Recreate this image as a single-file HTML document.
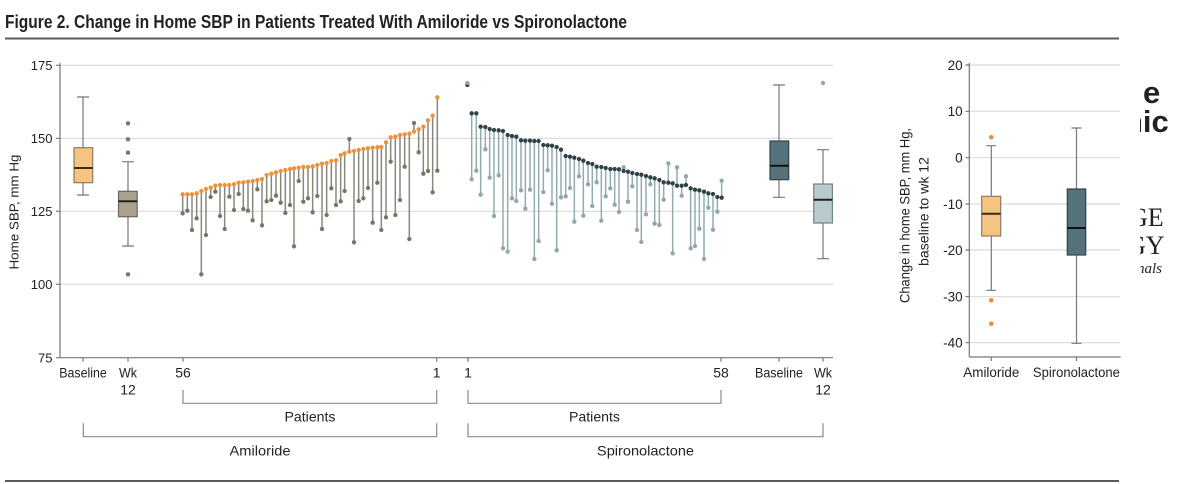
<!DOCTYPE html>
<html><head><meta charset="utf-8"><style>
html,body{margin:0;padding:0;background:#fff;}
svg{display:block;}
text{font-family:"Liberation Sans",sans-serif;fill:#222;}
</style></head><body>
<svg width="1200" height="484" viewBox="0 0 1200 484" xmlns="http://www.w3.org/2000/svg">
<defs><clipPath id="clipR"><rect x="1140" y="0" width="60" height="484"/></clipPath></defs>
<rect width="1200" height="484" fill="#fff"/>
<!-- title -->
<text x="5" y="28" font-size="18" font-weight="bold" textLength="622" lengthAdjust="spacingAndGlyphs">Figure 2. Change in Home SBP in Patients Treated With Amiloride vs Spironolactone</text>
<line x1="5" y1="38.5" x2="1119" y2="38.5" stroke="#5a5a5a" stroke-width="2"/>
<line x1="5" y1="481" x2="1119" y2="481" stroke="#5a5a5a" stroke-width="2"/>

<!-- main chart grid -->
<g stroke="#dadada" stroke-width="1.2">
<line x1="60" y1="65.3" x2="833" y2="65.3"/>
<line x1="60" y1="138.3" x2="833" y2="138.3"/>
<line x1="60" y1="211.3" x2="833" y2="211.3"/>
<line x1="60" y1="284.3" x2="833" y2="284.3"/>
</g>
<g stroke="#777" stroke-width="1.2" fill="none">
<line x1="60" y1="63" x2="60" y2="357.7"/>
<line x1="60" y1="357.7" x2="833" y2="357.7"/>
<path d="M56 65.3H60M56 138.3H60M56 211.3H60M56 284.3H60M56 357.7H60"/>
<path d="M83 357.7V361.7M128 357.7V361.7M183 357.7V361.7M436.7 357.7V361.7M468 357.7V361.7M721 357.7V361.7M779 357.7V361.7M823 357.7V361.7"/>
</g>
<g font-size="13" text-anchor="end" fill="#333">
<text x="52.5" y="70">175</text>
<text x="52.5" y="143">150</text>
<text x="52.5" y="216">125</text>
<text x="52.5" y="289">100</text>
<text x="52.5" y="362.4">75</text>
</g>
<text transform="translate(18.5,212) rotate(-90)" font-size="13" text-anchor="middle" textLength="115" lengthAdjust="spacingAndGlyphs">Home SBP, mm Hg</text>

<!-- x labels -->
<g font-size="14" text-anchor="middle">
<text x="83" y="377.3" textLength="47.5" lengthAdjust="spacingAndGlyphs">Baseline</text>
<text x="128" y="377.3" textLength="18" lengthAdjust="spacingAndGlyphs">Wk</text>
<text x="128" y="394.3">12</text>
<text x="183" y="377.3">56</text>
<text x="436.7" y="377.3">1</text>
<text x="468" y="377.3">1</text>
<text x="721" y="377.3">58</text>
<text x="779" y="377.3" textLength="48" lengthAdjust="spacingAndGlyphs">Baseline</text>
<text x="823" y="377.3" textLength="18" lengthAdjust="spacingAndGlyphs">Wk</text>
<text x="823" y="394.3">12</text>
<text x="310" y="421.7" textLength="51" lengthAdjust="spacingAndGlyphs">Patients</text>
<text x="594.5" y="421.7" textLength="51" lengthAdjust="spacingAndGlyphs">Patients</text>
<text x="260" y="455.7" textLength="61" lengthAdjust="spacingAndGlyphs">Amiloride</text>
<text x="645.5" y="455.7" textLength="97" lengthAdjust="spacingAndGlyphs">Spironolactone</text>
</g>
<g stroke="#8a8a8a" stroke-width="1.2" fill="none">
<path d="M183 390V403.3H436.7V390"/>
<path d="M468 390V403.3H721V390"/>
<path d="M83.3 423.3V436.7H436.7V423.3"/>
<path d="M468 423.3V436.7H823V423.3"/>
</g>

<!-- amiloride box plots -->
<g stroke="#777" stroke-width="1.2">
<path d="M83 97V147.7M83 182.7V195M77 97H89M77 195H89"/>
<path d="M128 161.7V191.3M128 216.7V246M122 161.7H134M122 246H134"/>
</g>
<rect x="74" y="147.7" width="18.7" height="35" fill="#f6c380" stroke="#8d7c63" stroke-width="1.2"/>
<line x1="74" y1="168" x2="92.7" y2="168" stroke="#3a2a16" stroke-width="2"/>
<rect x="118.5" y="191.3" width="18.7" height="25.4" fill="#a9a291" stroke="#6c675b" stroke-width="1.2"/>
<line x1="118.5" y1="201.3" x2="137.2" y2="201.3" stroke="#222" stroke-width="2"/>
<g fill="#7a776c">
<circle cx="128" cy="123.3" r="2.2"/><circle cx="128" cy="139.3" r="2.2"/><circle cx="128" cy="152.7" r="2.2"/><circle cx="128" cy="274.3" r="2.2"/>
</g>

<!-- spironolactone box plots -->
<g stroke="#777" stroke-width="1.2">
<path d="M779 85V141M779 179.7V197.3M773 85H785M773 197.3H785"/>
<path d="M823 149.7V184M823 223V258.7M817 149.7H829M817 258.7H829"/>
</g>
<rect x="770" y="141" width="18.7" height="38.7" fill="#55727a" stroke="#2f4449" stroke-width="1.2"/>
<line x1="770" y1="165.7" x2="788.7" y2="165.7" stroke="#111" stroke-width="2"/>
<rect x="813.7" y="184" width="18.7" height="39" fill="#b9cacd" stroke="#6f8488" stroke-width="1.2"/>
<line x1="813.7" y1="199.7" x2="832.4" y2="199.7" stroke="#222" stroke-width="2"/>
<circle cx="823" cy="83" r="2.2" fill="#8fa8ac"/>

<!-- amiloride lollipops (zoom coords) -->
<g transform="translate(170,85) scale(0.33333)">
<path stroke="#8a877c" stroke-width="4.5" fill="none" d="M38 328V385M52 328V377M66 328V435M80 325V400M94 318V568M108 312V450M122 308V336M136 302V320M150 300V393M164 300V432M178 300V335M192 298V375M206 293V327M220 292V372M234 290V377M248 288V406M262 285V313M276 282V421M290 270V349M304 266V345M318 262V332M332 258V353M346 255V384M360 252V360M372 250V484M386 248V288M400 246V350M414 246V340M428 244V382M442 240V333M456 236V432M470 234V390M484 228V310M498 226V360M512 210V349M524 205V318M538 200V162M552 198V472M566 195V348M580 192V340M594 190V309M608 188V413M622 187V293M634 186V435M648 172V397M662 157V230M676 155V390M690 150V345M704 148V245M718 146V462M732 140V114M746 133V202M760 125V266M774 106V258M788 92V322M802 37V257"/>
<g fill="#78756a">
<circle cx="38" cy="385" r="6.5"/><circle cx="52" cy="377" r="6.5"/><circle cx="66" cy="435" r="6.5"/><circle cx="80" cy="400" r="6.5"/><circle cx="94" cy="568" r="6.5"/><circle cx="108" cy="450" r="6.5"/><circle cx="122" cy="336" r="6.5"/><circle cx="136" cy="320" r="6.5"/><circle cx="150" cy="393" r="6.5"/><circle cx="164" cy="432" r="6.5"/><circle cx="178" cy="335" r="6.5"/><circle cx="192" cy="375" r="6.5"/><circle cx="206" cy="327" r="6.5"/><circle cx="220" cy="372" r="6.5"/><circle cx="234" cy="377" r="6.5"/><circle cx="248" cy="406" r="6.5"/><circle cx="262" cy="313" r="6.5"/><circle cx="276" cy="421" r="6.5"/><circle cx="290" cy="349" r="6.5"/><circle cx="304" cy="345" r="6.5"/><circle cx="318" cy="332" r="6.5"/><circle cx="332" cy="353" r="6.5"/><circle cx="346" cy="384" r="6.5"/><circle cx="360" cy="360" r="6.5"/><circle cx="372" cy="484" r="6.5"/><circle cx="386" cy="288" r="6.5"/><circle cx="400" cy="350" r="6.5"/><circle cx="414" cy="340" r="6.5"/><circle cx="428" cy="382" r="6.5"/><circle cx="442" cy="333" r="6.5"/><circle cx="456" cy="432" r="6.5"/><circle cx="470" cy="390" r="6.5"/><circle cx="484" cy="310" r="6.5"/><circle cx="498" cy="360" r="6.5"/><circle cx="512" cy="349" r="6.5"/><circle cx="524" cy="318" r="6.5"/><circle cx="538" cy="162" r="6.5"/><circle cx="552" cy="472" r="6.5"/><circle cx="566" cy="348" r="6.5"/><circle cx="580" cy="340" r="6.5"/><circle cx="594" cy="309" r="6.5"/><circle cx="608" cy="413" r="6.5"/><circle cx="622" cy="293" r="6.5"/><circle cx="634" cy="435" r="6.5"/><circle cx="648" cy="397" r="6.5"/><circle cx="662" cy="230" r="6.5"/><circle cx="676" cy="390" r="6.5"/><circle cx="690" cy="345" r="6.5"/><circle cx="704" cy="245" r="6.5"/><circle cx="718" cy="462" r="6.5"/><circle cx="732" cy="114" r="6.5"/><circle cx="746" cy="202" r="6.5"/><circle cx="760" cy="266" r="6.5"/><circle cx="774" cy="258" r="6.5"/><circle cx="788" cy="322" r="6.5"/><circle cx="802" cy="257" r="6.5"/>
</g>
<g fill="#ec933a">
<circle cx="38" cy="328" r="6.5"/><circle cx="52" cy="328" r="6.5"/><circle cx="66" cy="328" r="6.5"/><circle cx="80" cy="325" r="6.5"/><circle cx="94" cy="318" r="6.5"/><circle cx="108" cy="312" r="6.5"/><circle cx="122" cy="308" r="6.5"/><circle cx="136" cy="302" r="6.5"/><circle cx="150" cy="300" r="6.5"/><circle cx="164" cy="300" r="6.5"/><circle cx="178" cy="300" r="6.5"/><circle cx="192" cy="298" r="6.5"/><circle cx="206" cy="293" r="6.5"/><circle cx="220" cy="292" r="6.5"/><circle cx="234" cy="290" r="6.5"/><circle cx="248" cy="288" r="6.5"/><circle cx="262" cy="285" r="6.5"/><circle cx="276" cy="282" r="6.5"/><circle cx="290" cy="270" r="6.5"/><circle cx="304" cy="266" r="6.5"/><circle cx="318" cy="262" r="6.5"/><circle cx="332" cy="258" r="6.5"/><circle cx="346" cy="255" r="6.5"/><circle cx="360" cy="252" r="6.5"/><circle cx="372" cy="250" r="6.5"/><circle cx="386" cy="248" r="6.5"/><circle cx="400" cy="246" r="6.5"/><circle cx="414" cy="246" r="6.5"/><circle cx="428" cy="244" r="6.5"/><circle cx="442" cy="240" r="6.5"/><circle cx="456" cy="236" r="6.5"/><circle cx="470" cy="234" r="6.5"/><circle cx="484" cy="228" r="6.5"/><circle cx="498" cy="226" r="6.5"/><circle cx="512" cy="210" r="6.5"/><circle cx="524" cy="205" r="6.5"/><circle cx="538" cy="200" r="6.5"/><circle cx="552" cy="198" r="6.5"/><circle cx="566" cy="195" r="6.5"/><circle cx="580" cy="192" r="6.5"/><circle cx="594" cy="190" r="6.5"/><circle cx="608" cy="188" r="6.5"/><circle cx="622" cy="187" r="6.5"/><circle cx="634" cy="186" r="6.5"/><circle cx="648" cy="172" r="6.5"/><circle cx="662" cy="157" r="6.5"/><circle cx="676" cy="155" r="6.5"/><circle cx="690" cy="150" r="6.5"/><circle cx="704" cy="148" r="6.5"/><circle cx="718" cy="146" r="6.5"/><circle cx="732" cy="140" r="6.5"/><circle cx="746" cy="133" r="6.5"/><circle cx="760" cy="125" r="6.5"/><circle cx="774" cy="106" r="6.5"/><circle cx="788" cy="92" r="6.5"/><circle cx="802" cy="37" r="6.5"/>
</g>
</g>

<!-- spironolactone lollipops (zoom coords) -->
<g transform="translate(450,75) scale(0.33333)">
<path stroke="#93acb0" stroke-width="4.5" fill="none" d="M52 28V25M65 115V313M79 115V287M92 155V359M106 156V223M119 162V308M132 165V423M146 166V301M159 168V520M173 180V530M186 183V370M199 185V378M213 196V346M226 197V401M240 197V344M253 198V552M266 198V498M280 210V351M293 211V286M306 212V386M320 216V526M333 224V367M347 243V364M360 245V339M373 248V440M387 252V304M400 257V422M414 264V328M427 267V393M440 275V322M454 276V437M467 279V364M481 282V340M494 282V389M507 283V411M521 288V277M534 290V380M547 294V334M561 297V465M574 299V501M588 303V418M601 307V328M614 310V446M628 315V450M641 322V374M655 323V265M668 325V535M681 332V277M695 332V362M708 330V304M722 340V520M735 344V513M748 346V461M762 350V552M775 355V398M789 357V464M802 366V410M815 368V317"/>
<g fill="#8fa8ac">
<circle cx="65" cy="313" r="6.5"/><circle cx="79" cy="287" r="6.5"/><circle cx="92" cy="359" r="6.5"/><circle cx="106" cy="223" r="6.5"/><circle cx="119" cy="308" r="6.5"/><circle cx="132" cy="423" r="6.5"/><circle cx="146" cy="301" r="6.5"/><circle cx="159" cy="520" r="6.5"/><circle cx="173" cy="530" r="6.5"/><circle cx="186" cy="370" r="6.5"/><circle cx="199" cy="378" r="6.5"/><circle cx="213" cy="346" r="6.5"/><circle cx="226" cy="401" r="6.5"/><circle cx="240" cy="344" r="6.5"/><circle cx="253" cy="552" r="6.5"/><circle cx="266" cy="498" r="6.5"/><circle cx="280" cy="351" r="6.5"/><circle cx="293" cy="286" r="6.5"/><circle cx="306" cy="386" r="6.5"/><circle cx="320" cy="526" r="6.5"/><circle cx="333" cy="367" r="6.5"/><circle cx="347" cy="364" r="6.5"/><circle cx="360" cy="339" r="6.5"/><circle cx="373" cy="440" r="6.5"/><circle cx="387" cy="304" r="6.5"/><circle cx="400" cy="422" r="6.5"/><circle cx="414" cy="328" r="6.5"/><circle cx="427" cy="393" r="6.5"/><circle cx="440" cy="322" r="6.5"/><circle cx="454" cy="437" r="6.5"/><circle cx="467" cy="364" r="6.5"/><circle cx="481" cy="340" r="6.5"/><circle cx="494" cy="389" r="6.5"/><circle cx="507" cy="411" r="6.5"/><circle cx="521" cy="277" r="6.5"/><circle cx="534" cy="380" r="6.5"/><circle cx="547" cy="334" r="6.5"/><circle cx="561" cy="465" r="6.5"/><circle cx="574" cy="501" r="6.5"/><circle cx="588" cy="418" r="6.5"/><circle cx="601" cy="328" r="6.5"/><circle cx="614" cy="446" r="6.5"/><circle cx="628" cy="450" r="6.5"/><circle cx="641" cy="374" r="6.5"/><circle cx="655" cy="265" r="6.5"/><circle cx="668" cy="535" r="6.5"/><circle cx="681" cy="277" r="6.5"/><circle cx="695" cy="362" r="6.5"/><circle cx="708" cy="304" r="6.5"/><circle cx="722" cy="520" r="6.5"/><circle cx="735" cy="513" r="6.5"/><circle cx="748" cy="461" r="6.5"/><circle cx="762" cy="552" r="6.5"/><circle cx="775" cy="398" r="6.5"/><circle cx="789" cy="464" r="6.5"/><circle cx="802" cy="410" r="6.5"/><circle cx="815" cy="317" r="6.5"/>
</g>
<g fill="#2e4347">
<circle cx="52" cy="30" r="6.5"/><circle cx="65" cy="115" r="6.5"/><circle cx="79" cy="115" r="6.5"/><circle cx="92" cy="155" r="6.5"/><circle cx="106" cy="156" r="6.5"/><circle cx="119" cy="162" r="6.5"/><circle cx="132" cy="165" r="6.5"/><circle cx="146" cy="166" r="6.5"/><circle cx="159" cy="168" r="6.5"/><circle cx="173" cy="180" r="6.5"/><circle cx="186" cy="183" r="6.5"/><circle cx="199" cy="185" r="6.5"/><circle cx="213" cy="196" r="6.5"/><circle cx="226" cy="197" r="6.5"/><circle cx="240" cy="197" r="6.5"/><circle cx="253" cy="198" r="6.5"/><circle cx="266" cy="198" r="6.5"/><circle cx="280" cy="210" r="6.5"/><circle cx="293" cy="211" r="6.5"/><circle cx="306" cy="212" r="6.5"/><circle cx="320" cy="216" r="6.5"/><circle cx="333" cy="224" r="6.5"/><circle cx="347" cy="243" r="6.5"/><circle cx="360" cy="245" r="6.5"/><circle cx="373" cy="248" r="6.5"/><circle cx="387" cy="252" r="6.5"/><circle cx="400" cy="257" r="6.5"/><circle cx="414" cy="264" r="6.5"/><circle cx="427" cy="267" r="6.5"/><circle cx="440" cy="275" r="6.5"/><circle cx="454" cy="276" r="6.5"/><circle cx="467" cy="279" r="6.5"/><circle cx="481" cy="282" r="6.5"/><circle cx="494" cy="282" r="6.5"/><circle cx="507" cy="283" r="6.5"/><circle cx="521" cy="288" r="6.5"/><circle cx="534" cy="290" r="6.5"/><circle cx="547" cy="294" r="6.5"/><circle cx="561" cy="297" r="6.5"/><circle cx="574" cy="299" r="6.5"/><circle cx="588" cy="303" r="6.5"/><circle cx="601" cy="307" r="6.5"/><circle cx="614" cy="310" r="6.5"/><circle cx="628" cy="315" r="6.5"/><circle cx="641" cy="322" r="6.5"/><circle cx="655" cy="323" r="6.5"/><circle cx="668" cy="325" r="6.5"/><circle cx="681" cy="332" r="6.5"/><circle cx="695" cy="332" r="6.5"/><circle cx="708" cy="330" r="6.5"/><circle cx="722" cy="340" r="6.5"/><circle cx="735" cy="344" r="6.5"/><circle cx="748" cy="346" r="6.5"/><circle cx="762" cy="350" r="6.5"/><circle cx="775" cy="355" r="6.5"/><circle cx="789" cy="357" r="6.5"/><circle cx="802" cy="366" r="6.5"/><circle cx="815" cy="368" r="6.5"/>
</g>
<circle cx="52" cy="24" r="6.5" fill="#8fa8ac"/>
</g>

<!-- right panel -->
<g stroke="#dadada" stroke-width="1.2">
<line x1="969" y1="65" x2="1120" y2="65"/>
<line x1="969" y1="111.3" x2="1120" y2="111.3"/>
<line x1="969" y1="157.7" x2="1120" y2="157.7"/>
<line x1="969" y1="204" x2="1120" y2="204"/>
<line x1="969" y1="250" x2="1120" y2="250"/>
<line x1="969" y1="296.7" x2="1120" y2="296.7"/>
<line x1="969" y1="342.7" x2="1120" y2="342.7"/>
</g>
<g stroke="#777" stroke-width="1.2" fill="none">
<line x1="969.3" y1="63" x2="969.3" y2="357"/>
<line x1="969.3" y1="357" x2="1120.7" y2="357"/>
<path d="M965.5 65H969.3M965.5 111.3H969.3M965.5 157.7H969.3M965.5 204H969.3M965.5 250H969.3M965.5 296.7H969.3M965.5 342.7H969.3"/>
<path d="M991.3 357V361M1076.5 357V361"/>
</g>
<g font-size="13.5" text-anchor="end" fill="#333">
<text x="962.7" y="69.8">20</text>
<text x="962.7" y="116.1">10</text>
<text x="962.7" y="162.5">0</text>
<text x="962.7" y="208.8">-10</text>
<text x="962.7" y="254.8">-20</text>
<text x="962.7" y="301.5">-30</text>
<text x="962.7" y="347.5">-40</text>
</g>
<text transform="translate(909.3,215.5) rotate(-90)" font-size="13.5" text-anchor="middle" textLength="175" lengthAdjust="spacingAndGlyphs">Change in home SBP, mm Hg,</text>
<text transform="translate(928.7,211.5) rotate(-90)" font-size="13.5" text-anchor="middle" textLength="109" lengthAdjust="spacingAndGlyphs">baseline to wk 12</text>
<g font-size="14" text-anchor="middle">
<text x="991.3" y="377" textLength="56" lengthAdjust="spacingAndGlyphs">Amiloride</text>
<text x="1076.4" y="377" textLength="87" lengthAdjust="spacingAndGlyphs">Spironolactone</text>
</g>
<g stroke="#777" stroke-width="1.2">
<path d="M991.3 145.7V196.3M991.3 236V290.3M986.3 145.7H996.3M986.3 290.3H996.3"/>
<path d="M1076.5 128V189M1076.5 255V343.3M1071.5 128H1081.5M1071.5 343.3H1081.5"/>
</g>
<rect x="981.7" y="196.3" width="19" height="39.7" fill="#f6c380" stroke="#8d7c63" stroke-width="1.2"/>
<line x1="981.7" y1="213.7" x2="1000.7" y2="213.7" stroke="#3a2a16" stroke-width="2"/>
<rect x="1067.3" y="189" width="18.4" height="66" fill="#55727a" stroke="#2f4449" stroke-width="1.2"/>
<line x1="1067.3" y1="228" x2="1085.7" y2="228" stroke="#111" stroke-width="2"/>
<g fill="#e0913a">
<circle cx="991.3" cy="137.3" r="2.3"/><circle cx="991.3" cy="300.3" r="2.3"/><circle cx="991.3" cy="323.7" r="2.3"/>
</g>

<!-- background artifacts on right -->
<text x="1143" y="103" font-size="31" font-weight="bold" fill="#111">e</text>
<g clip-path="url(#clipR)">
<text x="1124" y="132" font-size="31" font-weight="bold" fill="#111">nic</text>
<text x="1129" y="226" font-size="26" fill="#222" style="font-family:'Liberation Serif',serif">GE</text>
<text x="1127" y="254" font-size="26" fill="#222" style="font-family:'Liberation Serif',serif">GY</text>
<text x="1137" y="273" font-size="15" font-style="italic" fill="#333" style="font-family:'Liberation Serif',serif">nals</text>
</g>
</svg>
</body></html>
